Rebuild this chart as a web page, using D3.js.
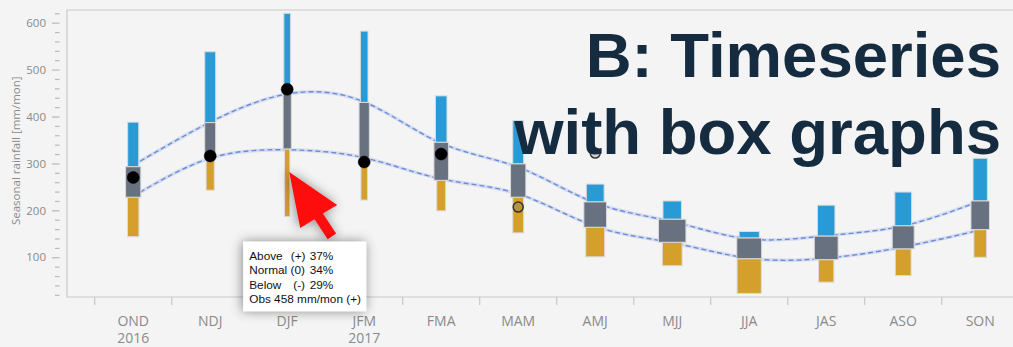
<!DOCTYPE html>
<html>
<head>
<meta charset="utf-8">
<script src="https://cdn.jsdelivr.net/npm/d3@7"></script>
<style>
  html, body { margin: 0; padding: 0; background: #f4f4f4; }
  svg { display: block; }
</style>
</head>
<body>
<svg id="chart" width="1013" height="347"></svg>
<script>
// Seasonal rainfall outlook, three-month running seasons
const seasons = ["OND", "NDJ", "DJF", "JFM", "FMA", "MAM", "AMJ", "MJJ", "JJA", "JAS", "ASO", "SON"];
const seasonYears = ["2016", "", "", "2017", "", "", "", "", "", "", "", ""];

// Forecast distribution per season (mm/mon): top of wet range, tercile bounds, bottom of dry range
const aboveTop      = [388, 538, 620, 582, 444, 391, 256, 220, 155, 211, 239, 311];
const upperTercile  = [293, 387, 462, 430, 345, 299, 218, 181, 141, 145, 167, 220];
const lowerTercile  = [228, 308, 331, 312, 264, 228, 164, 132,  97,  95, 118, 159];
const belowBottom   = [144, 243, 187, 222, 199, 152, 101,  82,  23,  47,  61, 100];

// Tercile probabilities (%)
const probAbove  = [31, 39, 37, 34, 35, 31, 31, 29, 30, 32, 32, 33];
const probNormal = [37, 32, 34, 37, 38, 38, 36, 40, 34, 40, 38, 38];
const probBelow  = [32, 29, 29, 29, 27, 31, 33, 31, 36, 28, 30, 29];

// Forecast skill per season (0..1), scales the box widths
const forecastSkill = [0.51, 0.40, 0.26, 0.32, 0.47, 0.50, 0.82, 0.91, 0.96, 0.78, 0.75, 0.62];

// Observed seasonal rainfall (mm/mon); later seasons not yet observed
const observed       = [270, 316, 458, 303, 320, 207, 322, null, null, null, null, null];
const obsProvisional = [false, false, false, false, false, true, true, false, false, false, false, false];

// Smoothed climatological tercile thresholds (mm/mon)
const climUpper = [296, 388, 448, 431, 343, 292, 216, 176, 139, 146, 167, 220];
const climLower = [230, 311, 329, 312, 267, 235, 166, 131,  98,  98, 122, 158];

const yMajorTicks = [100, 200, 300, 400, 500, 600];
const yMinorTicks = d3.range(20, 640, 20).filter(v => v % 100 !== 0);

const titleLines = ["B: Timeseries", "with box graphs"];
const yAxisTitle = "Seasonal rainfall [mm/mon]";

// ---------------------------------------------------------------
const W = 1013, H = 347;
const frame = { left: 67, top: 10, bottom: 297 };
const colors = {
  above: "#289bd6", normal: "#67717f", below: "#d4a02b",
  edge: "#dadada", clim: "#6a8bdc", axisText: "#8a8a8a",
  tick: "#b8b8b8", frame: "#c8c8c8", title: "#152b40"
};
const uiFont = "'Open Sans', 'Noto Sans', sans-serif";

const svg = d3.select("#chart");
const defs = svg.append("defs");
const shadow = defs.append("filter").attr("id", "softShadow")
  .attr("x", "-40%").attr("y", "-40%").attr("width", "180%").attr("height", "180%");
shadow.append("feDropShadow").attr("dx", -1).attr("dy", 0)
  .attr("stdDeviation", 6).attr("flood-color", "#000").attr("flood-opacity", 0.45);
defs.append("clipPath").attr("id", "plotClip").append("rect")
  .attr("x", frame.left).attr("y", frame.top)
  .attr("width", W - frame.left).attr("height", frame.bottom - frame.top);

const x = d3.scaleBand().domain(seasons).range([94.7, 94.7 + 77 * seasons.length]).padding(0);
const y = d3.scaleLinear().domain([0, 627]).range([304.2, frame.top]);
const xc = s => x(s) + x.bandwidth() / 2;
const widthScale = d3.scaleLinear().domain([0, 100]).range([0, 70]);

// plot frame
svg.append("path")
  .attr("d", `M${W + 5},${frame.top}H${frame.left}V${frame.bottom}H${W + 5}`)
  .attr("fill", "none").attr("stroke", colors.frame).attr("stroke-width", 1.2);

// y axis: major ticks with labels, minor ticks without
const yAxisMajor = svg.append("g").attr("transform", "translate(59.5,0)")
  .call(d3.axisLeft(y).tickValues(yMajorTicks).tickSize(7.5).tickPadding(6).tickFormat(d3.format("d")));
const yAxisMinor = svg.append("g").attr("transform", "translate(59.5,0)")
  .call(d3.axisLeft(y).tickValues(yMinorTicks).tickSize(4.5).tickFormat(""));
[yAxisMajor, yAxisMinor].forEach(g => {
  g.select(".domain").remove();
  g.selectAll(".tick line").attr("stroke", colors.tick).attr("stroke-width", 1.2);
  g.selectAll(".tick text").attr("fill", colors.axisText)
    .style("font-family", uiFont).style("font-size", "11.5px");
});

svg.append("text")
  .attr("transform", `translate(19.5,${(y(600) + y(20)) / 2 - 8}) rotate(-90)`)
  .attr("text-anchor", "middle")
  .attr("fill", colors.axisText)
  .style("font-family", uiFont).style("font-size", "11.5px")
  .text(yAxisTitle);

// x axis: category boundary ticks and two-line labels
const xAxis = svg.append("g").attr("transform", `translate(0,${frame.bottom})`);
xAxis.selectAll("line.bound").data(seasons).join("line")
  .attr("class", "bound")
  .attr("x1", d => x(d)).attr("x2", d => x(d))
  .attr("y1", 0).attr("y2", 8)
  .attr("stroke", colors.frame).attr("stroke-width", 1.2);
const xLabels = svg.append("g")
  .style("font-family", uiFont).style("font-size", "14px")
  .attr("fill", colors.axisText).attr("text-anchor", "middle");
xLabels.selectAll("text.season").data(seasons).join("text")
  .attr("class", "season").attr("x", d => xc(d)).attr("y", 325.5).text(d => d);
xLabels.selectAll("text.year").data(seasons.map((s, i) => ({ s, yr: seasonYears[i] })).filter(d => d.yr))
  .join("text").attr("class", "year").attr("x", d => xc(d.s)).attr("y", 343).text(d => d.yr);

// plot layer
const plot = svg.append("g").attr("clip-path", "url(#plotClip)");

// climatological tercile lines (behind the boxes)
const climLine = d3.line().x((d, i) => xc(seasons[i])).y(d => y(d)).curve(d3.curveNatural);
[climUpper, climLower].forEach(series => {
  plot.append("path").attr("d", climLine(series))
    .attr("fill", "none").attr("stroke", colors.clim).attr("stroke-opacity", 0.22).attr("stroke-width", 3.5);
  plot.append("path").attr("d", climLine(series))
    .attr("fill", "none").attr("stroke", colors.clim).attr("stroke-width", 1.4)
    .attr("stroke-dasharray", "5,3");
});

// box graphs
const boxes = seasons.map((s, i) => ({
  s, i,
  above: { top: aboveTop[i], bottom: upperTercile[i], w: widthScale(forecastSkill[i] * probAbove[i]) },
  normal: { top: upperTercile[i], bottom: lowerTercile[i], w: widthScale(forecastSkill[i] * probNormal[i]) + 2 },
  below: { top: lowerTercile[i], bottom: belowBottom[i], w: widthScale(forecastSkill[i] * probBelow[i]) }
}));
["below", "above", "normal"].forEach(part => {
  plot.selectAll(`rect.${part}`).data(boxes).join("rect")
    .attr("class", part)
    .attr("x", d => xc(d.s) - d[part].w / 2)
    .attr("width", d => d[part].w)
    .attr("y", d => y(d[part].top))
    .attr("height", d => y(d[part].bottom) - y(d[part].top))
    .attr("fill", colors[part])
    .attr("stroke", colors.edge).attr("stroke-width", 1);
});

// title
const title = svg.append("text")
  .attr("text-anchor", "end").attr("fill", colors.title)
  .style("font-family", "'Liberation Sans', Arial, sans-serif")
  .style("font-weight", "bold").style("font-size", "63.5px");
title.selectAll("tspan").data(titleLines).join("tspan")
  .attr("x", 1001).attr("y", (d, i) => 77 + i * 77).text(d => d);

// observations
const obsData = seasons.map((s, i) => ({ s, v: observed[i], prov: obsProvisional[i] })).filter(d => d.v != null);
plot.selectAll("circle.obs").data(obsData).join("circle")
  .attr("class", "obs")
  .attr("cx", d => xc(d.s)).attr("cy", d => y(d.v))
  .attr("r", d => d.prov ? 5 : 6)
  .attr("fill", d => d.prov ? "rgba(110,110,110,0.28)" : "#000")
  .attr("stroke", d => d.prov ? "#333" : "#000")
  .attr("stroke-width", d => d.prov ? 1.5 : 0.5);

// pointer and tooltip for DJF
const tipIdx = seasons.indexOf("DJF");
const tipX = xc("DJF") + 2, tipY = y(lowerTercile[tipIdx]) + 23;
const arrowShape = [[0, 0], [48, 33], [33.7, 41.7], [46.9, 61.7], [38.5, 67.3], [25.3, 47.3], [11, 56]];
svg.append("path")
  .attr("d", d3.line()(arrowShape.map(p => [tipX + p[0], tipY + p[1]])) + "Z")
  .attr("fill", "#ff0d0d").attr("filter", "url(#softShadow)");

const tipBox = { x: xc("DJF") - 44, y: 241.7, w: 123, h: 69.5 };
const tooltip = svg.append("g").attr("transform", `translate(${tipBox.x},${tipBox.y})`);
tooltip.append("rect").attr("width", tipBox.w).attr("height", tipBox.h)
  .attr("fill", "#fff").attr("filter", "url(#softShadow)");
const tipFont = t => t.style("font-family", "'Liberation Sans', Arial, sans-serif").style("font-size", "11.8px").attr("fill", "#111");
const tipRows = [
  { label: "Above", sign: "(+)", signX: 47.5, pct: probAbove[tipIdx] },
  { label: "Normal (0)", sign: "", signX: 0, pct: probNormal[tipIdx] },
  { label: "Below", sign: "(-)", signX: 50, pct: probBelow[tipIdx] }
];
tipRows.forEach((r, k) => {
  const by = 18.5 + k * 14.3;
  tooltip.append("text").attr("x", 6).attr("y", by).call(tipFont).text(r.label);
  if (r.sign) tooltip.append("text").attr("x", r.signX).attr("y", by).call(tipFont).text(r.sign);
  tooltip.append("text").attr("x", 66.5).attr("y", by).call(tipFont).text(`${r.pct}%`);
});
const obsSign = observed[tipIdx] > upperTercile[tipIdx] - 10 ? "(+)" : observed[tipIdx] < lowerTercile[tipIdx] ? "(-)" : "(0)";
tooltip.append("text").attr("x", 6).attr("y", 18.5 + 3 * 14.3).call(tipFont)
  .text(`Obs ${observed[tipIdx]} mm/mon ${obsSign}`);
</script>
</body>
</html>
